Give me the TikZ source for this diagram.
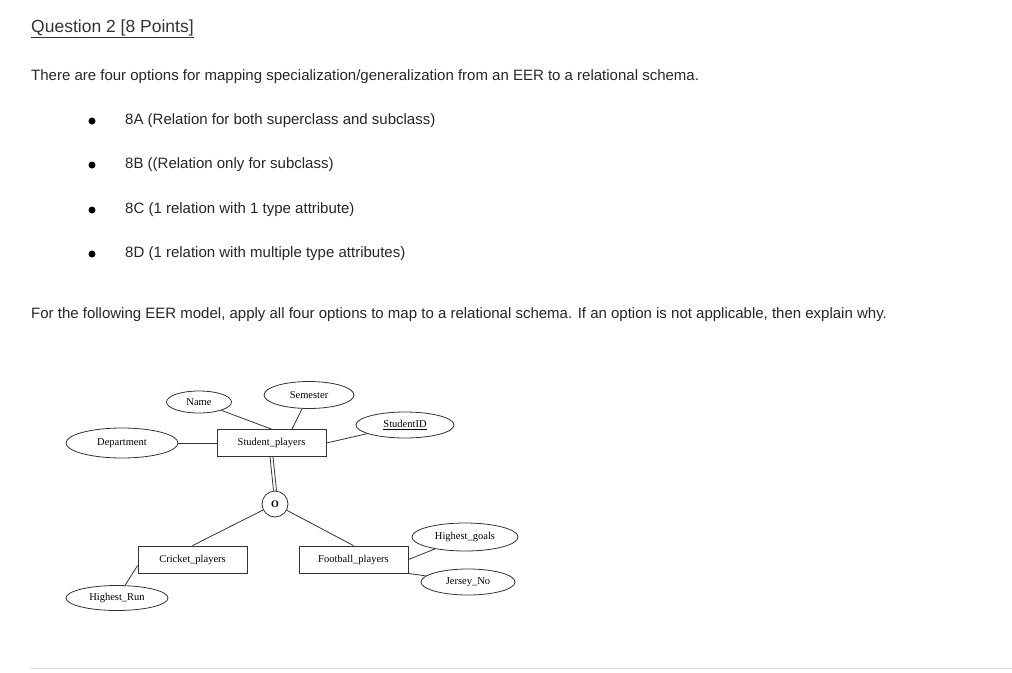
\documentclass[tikz,border=0pt]{standalone}
\usepackage{fontspec}
\setmainfont{Liberation Sans}
\newfontfamily\serifer{Liberation Serif}
\usetikzlibrary{shapes.geometric}
\begin{document}
\begin{tikzpicture}[x=1pt,y=-1pt,
  txt/.style={anchor=west,inner sep=0pt,font=\fontsize{15}{17}\selectfont,text=black!85},
  attr/.style={draw,ellipse,minimum width=#1,minimum height=24pt,inner sep=0pt,font=\serifer\fontsize{10.5}{12}\selectfont},
  ent/.style={draw,minimum width=109pt,minimum height=27pt,inner sep=0pt,font=\serifer\fontsize{10.5}{12}\selectfont},
  ln/.style={draw=black!80,line width=0.8pt}]
\useasboundingbox (0,0) rectangle (1012,672);
\node[anchor=west,inner sep=0pt,font=\fontsize{17.5}{20}\selectfont,text=black!80] (title) at (31,28.5) {\underline{Question 2 [8 Points]}};
\node[txt] (p1) at (31,77) {There are four options for mapping specialization/generalization from an EER to a relational schema.};
\foreach \y/\t [count=\i] in {121/8A (Relation for both superclass and subclass),165/8B ((Relation only for subclass),210/8C (1 relation with 1 type attribute),254/8D (1 relation with multiple type attributes)}{
  \node[circle,fill=black,inner sep=0pt,minimum size=7pt] (b\i) at (92,\y) {};
  \node[txt] (t\i) at (125,\y) {\t};
}
\node[txt] (p2) at (31,315) {For the following EER model, apply all four options to map to a relational schema. If an option is not applicable, then explain why.};
\draw[black!15] (31,668) -- (1012,668);
% diagram
\node[ent,draw=black!80,line width=0.8pt] (sp) at (271.5,443) {Student\_players};
\node[ent,draw=black!80,line width=0.8pt] (cp) at (192.5,559.5) {Cricket\_players};
\node[ent,draw=black!80,line width=0.8pt] (fp) at (353.5,559.5) {Football\_players};
\node[draw=black!80,line width=0.8pt,circle,minimum size=26pt,inner sep=0pt,font=\serifer\bfseries\fontsize{10}{11}\selectfont] (o) at (275,504) {O};
\tikzset{every node/.append style={}}
\node[attr=65pt,minimum height=22pt,ln] (name) at (199,402) {Name};
\node[attr=90pt,minimum height=27pt,ln] (sem) at (309,395) {Semester};
\node[attr=98pt,minimum height=26pt,ln] (sid) at (405,425) {\underline{StudentID}};
\node[attr=112pt,minimum height=30pt,ln] (dep) at (122,443) {Department};
\node[attr=106pt,minimum height=28pt,ln] (hg) at (465,537) {Highest\_goals};
\node[attr=94pt,minimum height=26pt,ln] (jn) at (468,582) {Jersey\_No};
\node[attr=102pt,minimum height=25pt,ln] (hr) at (117,598) {Highest\_Run};
\draw[ln] (name) -- (sp.north);
\draw[ln] (sem) -- (sp.north -| 292,0);
\draw[ln] (sid) -- (sp.east);
\draw[ln] (dep) -- (sp.west);
\draw[ln] ([xshift=-1.5pt]sp.south) -- ([xshift=-1.5pt]o.north);
\draw[ln] ([xshift=1.5pt]sp.south) -- ([xshift=1.5pt]o.north);
\draw[ln] (o) -- (cp.north);
\draw[ln] (o) -- (fp.north);
\draw[ln] (cp.west) ++(0,6) coordinate (c1) (c1) -- (hr);
\draw[ln] (fp.east) -- (hg);
\draw[ln] (fp.south east) -- (jn);
\end{tikzpicture}
\end{document}
